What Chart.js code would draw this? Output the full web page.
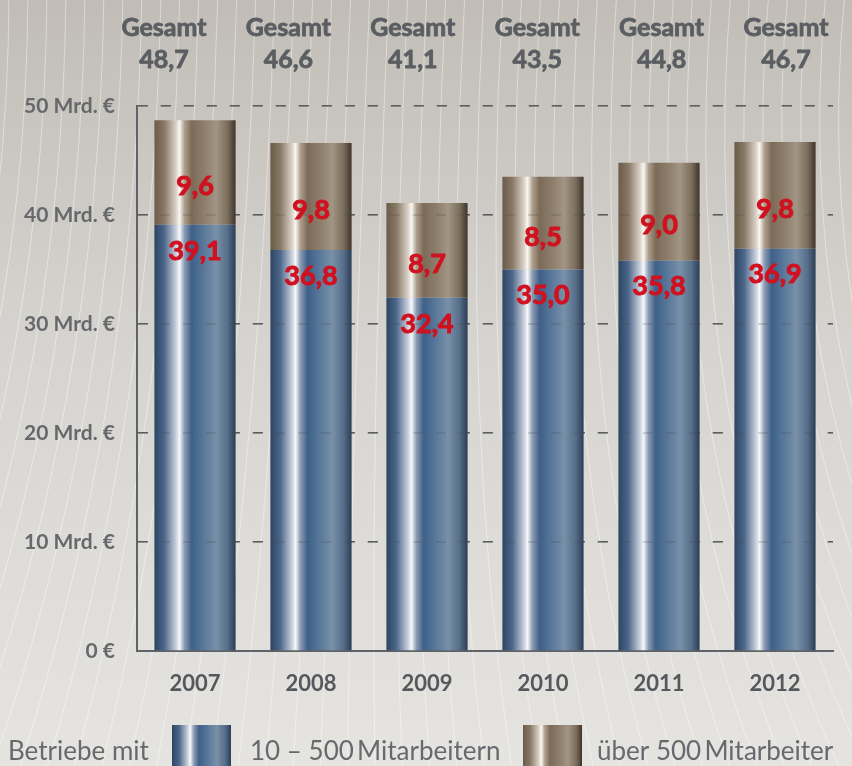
<!DOCTYPE html>
<html>
<head>
<meta charset="utf-8">
<style>
  html, body { margin: 0; padding: 0; background: #dcdad6; }
  #wrap { width: 852px; height: 766px; position: relative; }
</style>
<script src="https://cdn.jsdelivr.net/npm/chart.js@4.4.0/dist/chart.umd.min.js"></script>
</head>
<body>
<div id="wrap"><canvas id="chart"></canvas></div>
<script>
var years = ['2007', '2008', '2009', '2010', '2011', '2012'];
var small = [39.1, 36.8, 32.4, 35.0, 35.8, 36.9];   // 10 - 500 Mitarbeiter
var large = [9.6, 9.8, 8.7, 8.5, 9.0, 9.8];         // über 500 Mitarbeiter
var totals = [48.7, 46.6, 41.1, 43.5, 44.8, 46.7];
var yTicks = [0, 10, 20, 30, 40, 50];

var blueStops = [[0, '#2d4562'], [0.12, '#4b6689'], [0.26, '#c3cbd8'], [0.31, '#f7f8fb'], [0.37, '#8c9bb3'],
  [0.46, '#3e6088'], [0.62, '#5b7a9c'], [0.76, '#7990a8'], [0.9, '#566e8a'], [1, '#2b3d55']];
var brownStops = [[0, '#6b5b4a'], [0.12, '#877765'], [0.26, '#d6cdc2'], [0.31, '#faf7f2'], [0.37, '#ae9f8c'],
  [0.46, '#7b6a57'], [0.62, '#8e7f6c'], [0.76, '#a29584'], [0.9, '#7c6e5d'], [1, '#3e342b']];

function fmt(v) { return v.toFixed(1).replace('.', ','); }

function hGrad(ctx, x0, x1, stops) {
  var g = ctx.createLinearGradient(x0, 0, x1, 0);
  stops.forEach(function (s) { g.addColorStop(s[0], s[1]); });
  return g;
}

function barFill(stops, fallback) {
  return function (c) {
    var chart = c.chart, xs = chart.scales.x;
    if (!xs || !chart.chartArea || c.dataIndex === undefined) return fallback;
    var cx = xs.getPixelForValue(c.dataIndex);
    var w = xs.width / years.length * 0.7;
    return hGrad(chart.ctx, cx - w / 2, cx + w / 2, stops);
  };
}

// heavy text: fill plus a thin stroke in the same colour
function heavy(ctx, txt, x, y, w) {
  ctx.lineWidth = w;
  ctx.strokeStyle = ctx.fillStyle;
  ctx.strokeText(txt, x, y);
  ctx.fillText(txt, x, y);
}

var background = {
  id: 'background',
  beforeDraw: function (chart) {
    var ctx = chart.ctx, W = chart.width, H = chart.height;
    ctx.save();
    var g = ctx.createLinearGradient(0, 0, 0, H);
    g.addColorStop(0, '#c1bdb6');
    g.addColorStop(0.45, '#d6d4d0');
    g.addColorStop(1, '#e5e4e1');
    ctx.fillStyle = g;
    ctx.fillRect(0, 0, W, H);
    ctx.strokeStyle = 'rgba(255,255,255,0.42)';
    ctx.lineWidth = 1;
    for (var x0 = -200; x0 < W + 300; x0 += 19) {
      ctx.beginPath();
      ctx.moveTo(x0, -10);
      ctx.quadraticCurveTo(x0 * 0.95, 420, x0 + (x0 - 420) * 0.45, H + 10);
      ctx.stroke();
    }
    ctx.restore();
  }
};

var labels = {
  id: 'labels',
  afterDatasetsDraw: function (chart) {
    var ctx = chart.ctx, xs = chart.scales.x, ys = chart.scales.y, area = chart.chartArea;
    ctx.save();
    // faint grid dashes showing through the bars
    ctx.strokeStyle = 'rgba(70,70,70,0.25)';
    ctx.lineWidth = 1.6;
    ctx.setLineDash([10, 13]);
    yTicks.slice(1).forEach(function (v) {
      var py = ys.getPixelForValue(v);
      ctx.beginPath();
      ctx.moveTo(area.left, py);
      ctx.lineTo(area.right, py);
      ctx.stroke();
    });
    ctx.setLineDash([]);
    ctx.textAlign = 'center';
    ctx.textBaseline = 'middle';
    ctx.lineJoin = 'round';
    years.forEach(function (y, i) {
      var cx = xs.getPixelForValue(i);
      // totals on top, spaced evenly across the page width
      var tx = 164 + i * 124.4;
      ctx.fillStyle = '#5a5e62';
      ctx.font = 'bold 25px Lato';
      heavy(ctx, 'Gesamt', tx, 28, 0.8);
      heavy(ctx, fmt(totals[i]), tx, 60, 0.8);
      // segment values
      ctx.fillStyle = '#d0111f';
      ctx.font = 'bold 27px Lato';
      var top = ys.getPixelForValue(totals[i]);
      var mid = ys.getPixelForValue(small[i]);
      heavy(ctx, fmt(large[i]), cx, (top + mid) / 2 + 14, 1);
      heavy(ctx, fmt(small[i]), cx, mid + 26, 1);
    });
    ctx.restore();
  },
  afterDraw: function (chart) {
    var ctx = chart.ctx;
    ctx.save();
    ctx.font = '26px Lato';
    ctx.fillStyle = '#666a6e';
    ctx.textBaseline = 'alphabetic';
    var x = 8, base = 760;
    var items = ['Betriebe mit', blueStops, '10 \u2013 500\u2009Mitarbeitern', brownStops, 'über 500\u2009Mitarbeiter'];
    var widths = [142, 59, 255, 59, 246];
    var gaps = [22, 19, 18, 15, 0];
    items.forEach(function (it, k) {
      if (typeof it === 'string') {
        ctx.fillText(it, x, base, widths[k]);
      } else {
        ctx.fillStyle = hGrad(ctx, x, x + 59, it);
        ctx.fillRect(x, 725, 59, 45);
        ctx.fillStyle = '#666a6e';
      }
      x += widths[k] + gaps[k];
    });
    ctx.restore();
  }
};

new Chart(document.getElementById('chart').getContext('2d'), {
  type: 'bar',
  data: {
    labels: years,
    datasets: [{
      label: '10 – 500 Mitarbeitern',
      data: small,
      backgroundColor: barFill(blueStops, '#4a6688'),
      borderWidth: 0,
      barPercentage: 0.7,
      categoryPercentage: 1
    }, {
      label: 'über 500 Mitarbeiter',
      data: large,
      backgroundColor: barFill(brownStops, '#8a7a68'),
      borderWidth: 0,
      barPercentage: 0.7,
      categoryPercentage: 1
    }]
  },
  options: {
    responsive: true,
    maintainAspectRatio: false,
    animation: false,
    layout: { padding: { top: 106, right: 19, bottom: 75, left: 0 } },
    plugins: {
      legend: { display: false },
      tooltip: { enabled: false }
    },
    scales: {
      x: {
        stacked: true,
        grid: { display: false },
        border: { display: true, color: '#5f6266', width: 2 },
        ticks: { color: '#55585c', font: { family: 'Lato', size: 22, weight: 'bold' }, padding: 12 },
        afterFit: function (s) { s.height = 40; }
      },
      y: {
        stacked: true,
        min: 0,
        max: 50,
        afterBuildTicks: function (s) { s.ticks = yTicks.map(function (v) { return { value: v }; }); },
        grid: { color: '#606366', lineWidth: 1.6, drawTicks: false },
        border: { display: true, color: '#5f6266', width: 2, dash: [10, 13] },
        ticks: {
          color: '#66696c',
          font: { family: 'Lato', size: 21, weight: 'bold' },
          padding: 22,
          callback: function (v) { return v === 0 ? '0 €' : v + ' Mrd. €'; }
        },
        afterFit: function (s) { s.width = 137; }
      }
    }
  },
  plugins: [background, labels]
});
</script>
</body>
</html>
